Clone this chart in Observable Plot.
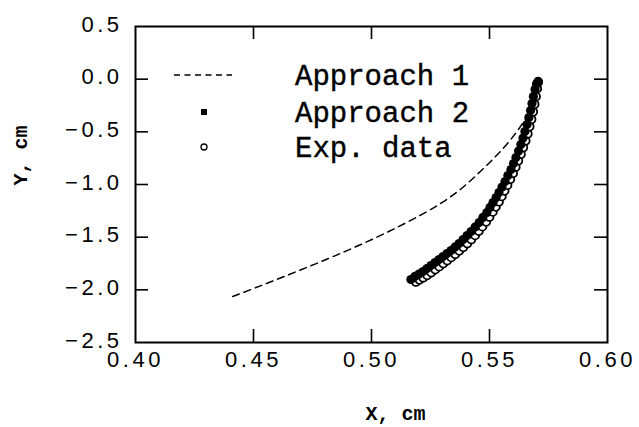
<!DOCTYPE html>
<html>
<head>
<meta charset="utf-8">
<script src="https://cdn.jsdelivr.net/npm/d3@7"></script>
<script src="https://cdn.jsdelivr.net/npm/@observablehq/plot@0.6"></script>
<style>
  html, body { margin: 0; padding: 0; background: #fff; }
  #chart svg { display: block; }
  #chart g[aria-label="x-axis tick label"] text,
  #chart g[aria-label="y-axis tick label"] text {
    font-family: 'Liberation Sans', Arial, sans-serif;
    font-weight: 400;
    font-size: 22px;
    letter-spacing: 3.5px;
    fill: #000;
  }
</style>
</head>
<body>
<div id="chart"></div>
<script>
// ---- data ----
const xTickValues = [0.40, 0.45, 0.50, 0.55, 0.60];
const yTickValues = [0.5, 0.0, -0.5, -1.0, -1.5, -2.0, -2.5];
const xInnerTicks = [0.45, 0.50, 0.55];
const yInnerTicks = [0.0, -0.5, -1.0, -1.5, -2.0];

const seriesNames = ["Approach 1", "Approach 2", "Exp. data"];

// Approach 1 (dashed line)
const approach1X = [0.4412, 0.4532, 0.4645, 0.4758, 0.4871, 0.4984, 0.5097, 0.5210, 0.5300, 0.5380, 0.5450, 0.5510, 0.5565, 0.5615, 0.5655];
const approach1Y = [-2.063, -1.960, -1.860, -1.758, -1.652, -1.540, -1.420, -1.288, -1.170, -1.040, -0.900, -0.770, -0.640, -0.500, -0.370];

// Approach 2 (filled markers)
const approach2X = [0.5167, 0.5184, 0.5201, 0.5218, 0.5235, 0.5252, 0.5269, 0.5286, 0.5303, 0.5320,
                    0.5337, 0.5354, 0.5371, 0.5388, 0.5405, 0.5422, 0.5439, 0.5456, 0.5472, 0.5489,
                    0.5502, 0.5515, 0.5528, 0.5540, 0.5553, 0.5566, 0.5578, 0.5591, 0.5602, 0.5612,
                    0.5623, 0.5633, 0.5642, 0.5650, 0.5659, 0.5667, 0.5674, 0.5680, 0.5686, 0.5693,
                    0.5699, 0.5706];
const approach2Y = [-1.902, -1.873, -1.850, -1.826, -1.798, -1.769, -1.741, -1.712, -1.684, -1.655,
                    -1.627, -1.593, -1.560, -1.522, -1.484, -1.446, -1.404, -1.361, -1.313, -1.266,
                    -1.218, -1.171, -1.124, -1.076, -1.024, -0.972, -0.915, -0.858, -0.801, -0.744,
                    -0.682, -0.620, -0.559, -0.497, -0.430, -0.364, -0.297, -0.231, -0.165, -0.098,
                    -0.045, -0.020];

// Experimental data (open circles)
const expX = [0.5188, 0.5203, 0.5219, 0.5236, 0.5253, 0.5270, 0.5287, 0.5304, 0.5321, 0.5338,
              0.5355, 0.5372, 0.5389, 0.5406, 0.5423, 0.5439, 0.5455, 0.5470, 0.5486, 0.5500,
              0.5514, 0.5527, 0.5540, 0.5552, 0.5564, 0.5576, 0.5588, 0.5600, 0.5611, 0.5622,
              0.5633, 0.5643, 0.5653, 0.5662, 0.5670, 0.5678, 0.5685, 0.5691, 0.5697, 0.5702,
              0.5706];
const expY = [-1.925, -1.905, -1.885, -1.862, -1.836, -1.808, -1.780, -1.751, -1.722, -1.692,
              -1.662, -1.630, -1.596, -1.560, -1.522, -1.483, -1.442, -1.400, -1.354, -1.308,
              -1.260, -1.212, -1.163, -1.113, -1.060, -1.006, -0.950, -0.893, -0.834, -0.774,
              -0.712, -0.648, -0.584, -0.518, -0.450, -0.380, -0.310, -0.238, -0.165, -0.090,
              -0.030];

const xLabel = "X, cm";
const yLabel = "Y, cm";

// ---- tables built from the arrays ----
const ap1 = approach1X.map((x, i) => ({x, y: approach1Y[i]}));
const ap2 = approach2X.map((x, i) => ({x, y: approach2Y[i]}));
const exp = expX.map((x, i) => ({x, y: expY[i]}));

const W = 639, H = 427;
const mL = 135, mR = 32, mT = 26, mB = 85;
const frameW = W - mL - mR, frameH = H - mT - mB;
const tickLen = 13;
const monoFont = "'Liberation Mono', 'Courier New', monospace";

// legend drawn as a custom render mark, positioned relative to the frame
function legendMark(index, scales, values, dims) {
  const g = d3.create("svg:g").attr("aria-label", "legend");
  const x0 = dims.marginLeft, y0 = dims.marginTop;
  const symX = x0 + 69;
  const textX = x0 + 160;
  const rows = [y0 + 49, y0 + 86, y0 + 121];
  g.append("line")
    .attr("x1", x0 + 39).attr("x2", x0 + 97)
    .attr("y1", rows[0]).attr("y2", rows[0])
    .attr("stroke", "#000").attr("stroke-width", 1.5)
    .attr("stroke-dasharray", "6,4.5");
  g.append("rect")
    .attr("x", symX - 3).attr("y", rows[1] - 3)
    .attr("width", 6).attr("height", 6)
    .attr("fill", "#000");
  g.append("circle")
    .attr("cx", symX).attr("cy", rows[2])
    .attr("r", 3).attr("fill", "#fff")
    .attr("stroke", "#000").attr("stroke-width", 1.3);
  seriesNames.forEach((name, i) => {
    g.append("text")
      .attr("x", textX).attr("y", rows[i] + 10)
      .attr("text-anchor", "start")
      .attr("font-family", monoFont)
      .attr("font-size", 29)
      .attr("fill", "#000")
      .attr("stroke", "#000").attr("stroke-width", 0.4)
      .text(name);
  });
  return g.node();
}

const chart = Plot.plot({
  width: W,
  height: H,
  marginLeft: mL,
  marginRight: mR,
  marginTop: mT,
  marginBottom: mB,
  style: {
    background: "#fff",
    color: "#000",
    fontFamily: "'Liberation Sans', Arial, sans-serif",
    fontSize: "22px"
  },
  x: {domain: [0.40, 0.60]},
  y: {domain: [-2.5, 0.5]},
  marks: [
    // tick labels
    Plot.axisX(xTickValues, {
      anchor: "bottom", tickSize: 0, tickPadding: 9,
      tickFormat: d3.format(".2f"), label: null,
      fontSize: 22, dx: 0
    }),
    Plot.axisY(yTickValues, {
      anchor: "left", tickSize: 0, tickPadding: 13,
      tickFormat: d3.format(".1f"), label: null,
      fontSize: 22, dy: -2
    }),
    // inward ticks on all four sides
    Plot.ruleX(xInnerTicks, {x: d => d, insetTop: frameH - tickLen, stroke: "#000", strokeWidth: 1.6}),
    Plot.ruleX(xInnerTicks, {x: d => d, insetBottom: frameH - tickLen, stroke: "#000", strokeWidth: 1.6}),
    Plot.ruleY(yInnerTicks, {y: d => d, insetRight: frameW - tickLen, stroke: "#000", strokeWidth: 1.6}),
    Plot.ruleY(yInnerTicks, {y: d => d, insetLeft: frameW - tickLen, stroke: "#000", strokeWidth: 1.6}),
    Plot.frame({stroke: "#000", strokeWidth: 2}),
    // data
    Plot.line(ap1, {x: "x", y: "y", stroke: "#000", strokeWidth: 1.5, strokeDasharray: "7,5", curve: "catmull-rom"}),
    Plot.dot(exp, {x: "x", y: "y", r: 4, fill: "#fff", stroke: "#000", strokeWidth: 1.8}),
    Plot.dot(ap2, {x: "x", y: "y", r: 4.6, fill: "#000", stroke: "none"}),
    // axis titles
    Plot.text([xLabel], {
      frameAnchor: "bottom", dy: 71, dx: 24,
      textAnchor: "middle", lineAnchor: "middle",
      fontFamily: monoFont, fontWeight: "bold", fontSize: 20,
      text: d => d, fill: "#000"
    }),
    Plot.text([yLabel], {
      frameAnchor: "left", dx: -115, dy: -29, rotate: -90,
      textAnchor: "middle", lineAnchor: "middle",
      fontFamily: monoFont, fontWeight: "bold", fontSize: 20,
      text: d => d, fill: "#000"
    }),
    legendMark
  ]
});

document.getElementById("chart").appendChild(chart);
</script>
</body>
</html>
